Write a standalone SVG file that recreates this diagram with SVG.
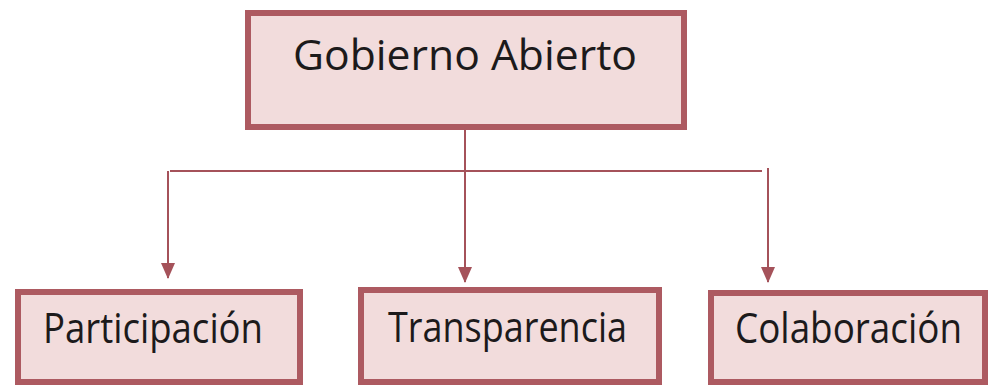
<svg xmlns="http://www.w3.org/2000/svg" width="992" height="386" viewBox="0 0 992 386">
<defs>
<style>
.box{fill:#f2dcdc;stroke:#ad5a61;stroke-width:6}
.lbl{font-family:"Open Sans","Noto Sans",sans-serif;font-size:42px;fill:#1c1a1b}
.ln{fill:none;stroke:#a5525a;stroke-width:2}
</style>
<marker id="ah" markerWidth="8" markerHeight="7" refX="7.5" refY="3.5" orient="auto" markerUnits="strokeWidth">
<path d="M0,0 L8,3.5 L0,7 Z" fill="#a5525a"/>
</marker>
</defs>
<rect width="992" height="386" fill="#ffffff"/>
<g id="connectors">
<path class="ln" d="M465,130 V282" marker-end="url(#ah)"/>
<path class="ln" d="M170,171 H762"/>
<path class="ln" d="M168,171 V278" marker-end="url(#ah)"/>
<path class="ln" d="M768,168 V282" marker-end="url(#ah)"/>
</g>
<g id="gobierno">
<rect class="box" x="248" y="13" width="436" height="114"/>
<text class="lbl" x="293" y="70" textLength="344" lengthAdjust="spacingAndGlyphs">Gobierno Abierto</text>
</g>
<g id="participacion">
<rect class="box" x="18" y="292" width="282" height="90"/>
<text class="lbl" x="43" y="343" textLength="220" lengthAdjust="spacingAndGlyphs">Participación</text>
</g>
<g id="transparencia">
<rect class="box" x="361" y="290" width="298" height="92"/>
<text class="lbl" x="388" y="342" textLength="239" lengthAdjust="spacingAndGlyphs">Transparencia</text>
</g>
<g id="colaboracion">
<rect class="box" x="711" y="293" width="274" height="89"/>
<text class="lbl" x="735" y="343" textLength="227" lengthAdjust="spacingAndGlyphs">Colaboración</text>
</g>
</svg>
